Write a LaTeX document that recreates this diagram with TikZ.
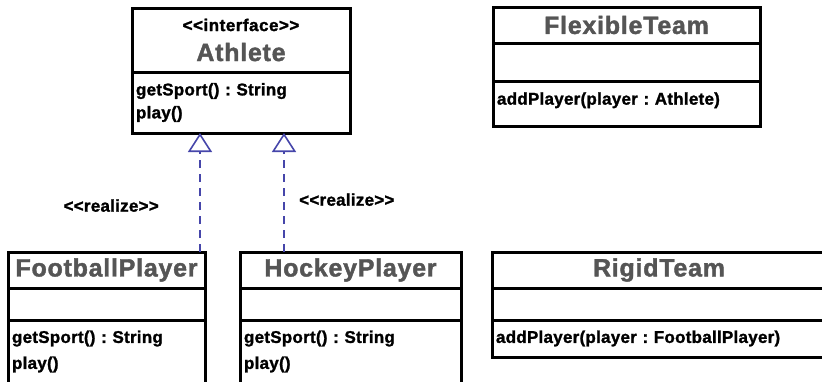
\documentclass[tikz,border=0pt]{standalone}
\usepackage{fontspec}
\setmainfont{Liberation Sans}
\newfontfamily\umltitlefont[LetterSpace=3, BoldFeatures={FakeBold=1.6}]{Liberation Sans}
\newfontfamily\umlbodyfont[LetterSpace=1.5, BoldFeatures={FakeBold=1.4}]{Liberation Sans}
\frenchspacing
\usetikzlibrary{positioning,arrows.meta}

\definecolor{titlegray}{HTML}{555555}
\definecolor{realizeblue}{HTML}{4646AA}
\newcommand{\umlstereo}[1]{<{}<#1>{}>}

\tikzset{
	compartment/.style 2 args={draw, line width=3pt, outer sep=0pt, inner xsep=4pt, inner ysep=0pt, text width=#1, minimum height=#2},
	titlepart/.style 2 args={compartment={#1}{#2}, align=center, text=titlegray, font=\umltitlefont\bfseries\fontsize{25}{30}\selectfont},
	attrpart/.style 2 args={compartment={#1}{#2}},
	opspart/.style n args={3}{compartment={#1}{#2}, align=left, font=\umlbodyfont\bfseries\fontsize{17}{#3}\selectfont},
	stereotype/.style={font=\umlbodyfont\bfseries\fontsize{17}{20}\selectfont},
	realize/.style={realizeblue, line width=1.8pt, dash pattern=on 8pt off 6pt, -{Triangle[open, width=24pt, length=19pt, line width=1.6pt]}}
}

\begin{document}
\begin{tikzpicture}[x=1pt, y=-1pt]
	\clip (0,0) rectangle (822,381);

	% interface
	\node[titlepart={210pt}{64pt}, anchor=north west] (athlete-name) at (132,8) {{\color{black}\fontsize{17}{20}\selectfont\umlstereo{interface}}\\Athlete};
	\node[opspart={210pt}{61pt}{23pt}, below=0pt of athlete-name] (athlete-ops) {getSport() : String\\play()};

	% teams
	\node[titlepart={259pt}{36pt}, anchor=north west] (flexible-name) at (493,7) {FlexibleTeam};
	\node[attrpart={259pt}{38pt}, below=0pt of flexible-name] (flexible-attrs) {};
	\node[opspart={259pt}{45pt}{20pt}, text depth=10pt, below=0pt of flexible-attrs] (flexible-ops) {addPlayer(player : Athlete)};

	\node[titlepart={326pt}{36pt}, anchor=north west] (rigid-name) at (492,252) {RigidTeam};
	\node[attrpart={326pt}{32pt}, below=0pt of rigid-name] (rigid-attrs) {};
	\node[opspart={326pt}{37pt}{20pt}, below=0pt of rigid-attrs] (rigid-ops) {addPlayer(player : FootballPlayer)};

	% players
	\node[titlepart={189pt}{36pt}, anchor=north west] (football-name) at (8,252) {FootballPlayer};
	\node[attrpart={189pt}{32pt}, below=0pt of football-name] (football-attrs) {};
	\node[opspart={189pt}{63pt}{26pt}, below=0pt of football-attrs] (football-ops) {getSport() : String\\play()};

	\node[titlepart={213pt}{36pt}, anchor=north west] (hockey-name) at (240,252) {HockeyPlayer};
	\node[attrpart={213pt}{32pt}, below=0pt of hockey-name] (hockey-attrs) {};
	\node[opspart={213pt}{63pt}{26pt}, below=0pt of hockey-attrs] (hockey-ops) {getSport() : String\\play()};

	% realizations
	\coordinate (football-in) at ([xshift=-5pt]football-name.north east);
	\coordinate (hockey-in) at ([xshift=44pt]hockey-name.north west);
	\draw[realize] (football-in) -- (football-in |- athlete-ops.south) node[pos=0.39, left=37pt, stereotype, text=black] (football-realize) {\umlstereo{realize}};
	\draw[realize] (hockey-in) -- (hockey-in |- athlete-ops.south) node[pos=0.44, right=11pt, stereotype, text=black] (hockey-realize) {\umlstereo{realize}};
\end{tikzpicture}
\end{document}
